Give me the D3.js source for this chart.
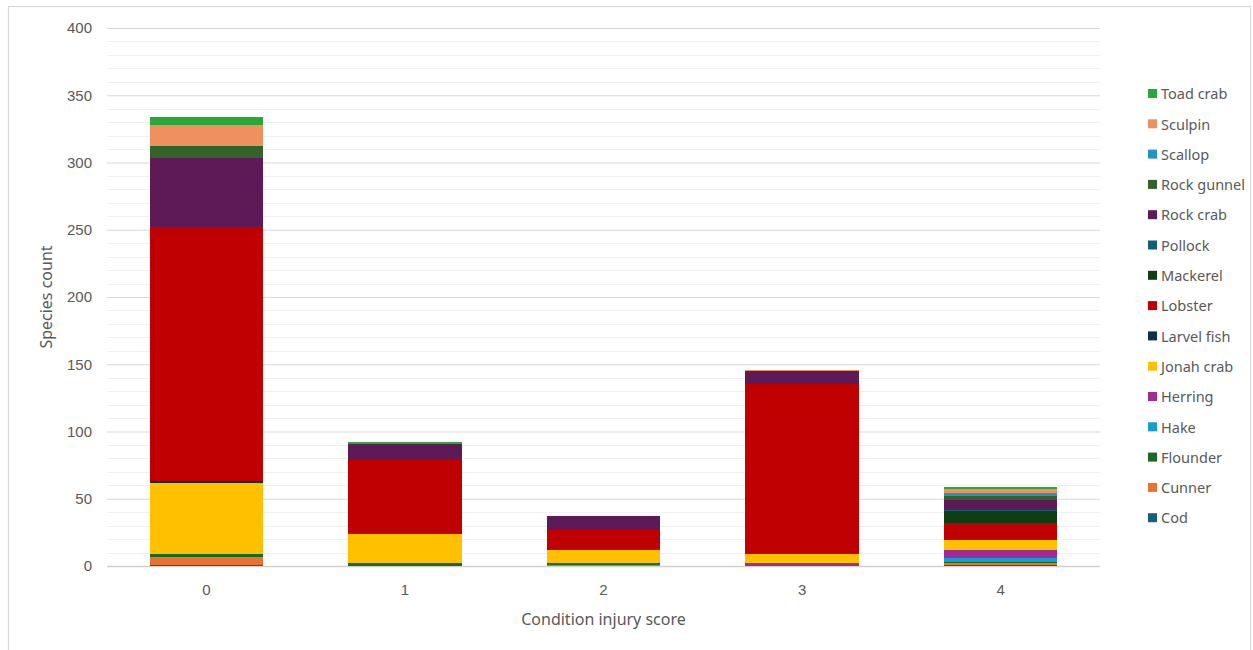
<!DOCTYPE html>
<html>
<head>
<meta charset="utf-8">
<script src="https://cdn.jsdelivr.net/npm/d3@7"></script>
<style>
  html, body { margin: 0; padding: 0; background: #ffffff; }
  svg { display: block; }
  text { font-family: "Noto Sans", "Open Sans", sans-serif; fill: #595959; }
</style>
</head>
<body>
<svg id="chart" width="1253" height="650"></svg>
<script>
// Injury score categories on the x axis
const categories = ["0", "1", "2", "3", "4"];

// Species, in stacking order (bottom to top)
const species = ["Cod", "Cunner", "Flounder", "Hake", "Herring", "Jonah crab", "Larvel fish",
  "Lobster", "Mackerel", "Pollock", "Rock crab", "Rock gunnel", "Scallop", "Sculpin", "Toad crab"];

// Counts per species for scores 0..4
const cod        = [1, 0, 0, 0, 1];
const cunner     = [6, 0, 1, 0, 1];
const flounder   = [2, 2, 1, 0, 1];
const hake       = [0, 0, 0, 0, 3];
const herring    = [0, 0, 0, 2, 6];
const jonahCrab  = [53, 22, 10, 7, 7];
const larvelFish = [1, 0, 0, 0, 0];
const lobster    = [189, 55, 15, 126, 13];
const mackerel   = [0, 0, 0, 0, 9];
const pollock    = [0, 0, 0, 0, 1];
const rockCrab   = [51, 12, 10, 10, 7];
const rockGunnel = [9, 0, 0, 0, 3];
const scallop    = [0, 0, 0, 0, 2];
const sculpin    = [16, 0, 0, 1, 3];
const toadCrab   = [6, 1, 0, 0, 2];

const yTicks = [0, 50, 100, 150, 200, 250, 300, 350, 400];

const seriesValues = [cod, cunner, flounder, hake, herring, jonahCrab, larvelFish,
  lobster, mackerel, pollock, rockCrab, rockGunnel, scallop, sculpin, toadCrab];

const colors = ["#156082", "#E97132", "#196B24", "#0F9ED5", "#A02B93", "#FFC000", "#0E3348",
  "#C00000", "#0E3F14", "#0F5E7B", "#5E1A56", "#34622A", "#2394CB", "#EE915F", "#29A83A"];

// Build one row per category for d3.stack
const rows = categories.map((c, i) => {
  const r = { category: c };
  species.forEach((s, j) => { r[s] = seriesValues[j][i]; });
  return r;
});

const svg = d3.select("#chart");

// Outer chart frame
svg.append("rect")
  .attr("x", 8.5).attr("y", 6.5)
  .attr("width", 1242).attr("height", 660)
  .attr("fill", "none").attr("stroke", "#d9d9d9").attr("stroke-width", 1.2);

const plot = { left: 107, right: 1100, top: 28, bottom: 566 };

const x = d3.scaleBand()
  .domain(categories)
  .range([plot.left, plot.right])
  .paddingInner(0.43)
  .paddingOuter(0.215);

const y = d3.scaleLinear()
  .domain([0, 400])
  .range([plot.bottom, plot.top]);

const color = d3.scaleOrdinal().domain(species).range(colors);

// Minor gridlines every 10
const minor = d3.range(10, 400, 10).filter(v => v % 50 !== 0);
svg.append("g").selectAll("line").data(minor).join("line")
  .attr("x1", plot.left).attr("x2", plot.right)
  .attr("y1", d => Math.round(y(d)) + 0.5).attr("y2", d => Math.round(y(d)) + 0.5)
  .attr("stroke", "#f0f0f0").attr("stroke-width", 1);

// Major gridlines and y axis labels
const yAxis = d3.axisLeft(y).tickValues(yTicks).tickSize(-(plot.right - plot.left)).tickPadding(15);
const gy = svg.append("g").attr("transform", `translate(${plot.left},0)`).call(yAxis);
gy.select(".domain").remove();
gy.selectAll(".tick line").attr("stroke", d => d === 0 ? "#d0d0d0" : "#d9d9d9").attr("stroke-width", d => d === 0 ? 1.3 : 1);
gy.selectAll(".tick text").attr("font-size", 15).attr("fill", "#595959")
  .style("font-family", "'Liberation Sans', Arial, sans-serif");

// Stacked bars
const stacked = d3.stack().keys(species)(rows);
svg.append("g").attr("shape-rendering", "crispEdges")
  .selectAll("g").data(stacked).join("g")
  .attr("fill", d => color(d.key))
  .selectAll("rect").data(d => d).join("rect")
  .attr("x", d => x(d.data.category))
  .attr("width", x.bandwidth())
  .attr("y", d => y(d[1]))
  .attr("height", d => y(d[0]) - y(d[1]));

// X axis labels
const xAxis = d3.axisBottom(x).tickSize(0).tickPadding(18);
const gx = svg.append("g").attr("transform", `translate(0,${plot.bottom})`).call(xAxis);
gx.select(".domain").remove();
gx.selectAll(".tick text").attr("font-size", 15).attr("fill", "#595959")
  .style("font-family", "'Liberation Sans', Arial, sans-serif");

// Axis titles
svg.append("text")
  .attr("x", (plot.left + plot.right) / 2).attr("y", 625)
  .attr("text-anchor", "middle").attr("font-size", 16)
  .text("Condition injury score");

svg.append("text")
  .attr("transform", `translate(52,${(plot.top + plot.bottom) / 2}) rotate(-90)`)
  .attr("text-anchor", "middle").attr("font-size", 16)
  .text("Species count");

// Legend, top entry is the last series
const legendItems = species.slice().reverse();
const legend = svg.append("g").selectAll("g").data(legendItems).join("g")
  .attr("transform", (d, i) => `translate(1148,${94 + i * 30.3})`);
legend.append("rect")
  .attr("x", 0).attr("y", -5).attr("width", 9).attr("height", 9)
  .attr("fill", d => color(d));
legend.append("text")
  .attr("x", 13).attr("y", 0).attr("dy", "0.36em")
  .attr("font-size", 14.5)
  .text(d => d);
</script>
</body>
</html>
